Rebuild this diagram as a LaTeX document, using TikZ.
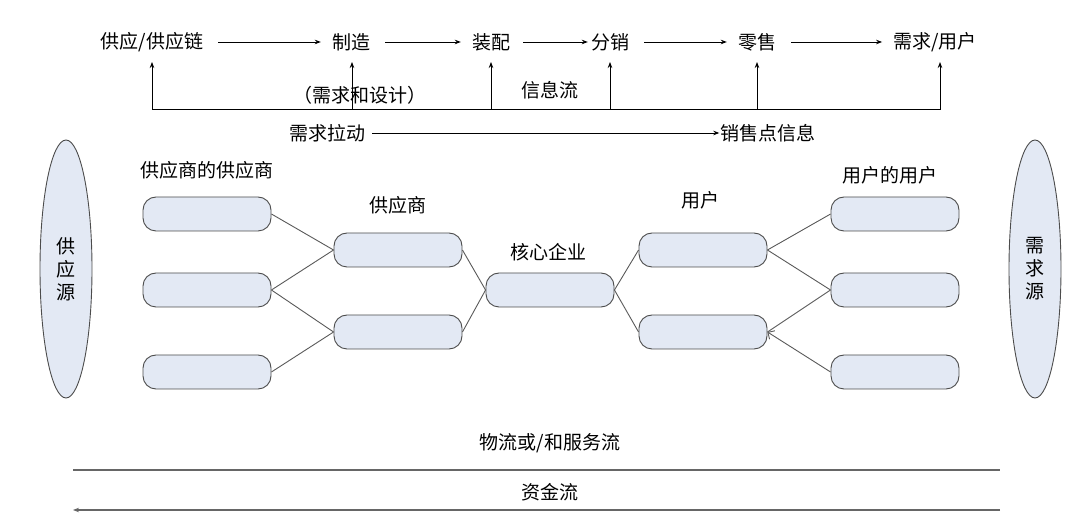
\documentclass[tikz,border=0pt]{standalone}
\usepackage{fontspec}
\setmainfont{Noto Sans CJK SC}
\usetikzlibrary{arrows.meta,shapes.geometric}
\definecolor{bf}{HTML}{E3E9F4}
\begin{document}
\begin{tikzpicture}[x=1pt,y=-1pt,
 t/.style={font=\fontsize{19}{23}\selectfont,inner sep=1pt},
 box/.style={draw=black!70,fill=bf,rounded corners=13pt,minimum width=128pt,minimum height=34pt,line width=0.9pt},
 src/.style={draw=black!70,fill=bf,ellipse,minimum width=52pt,minimum height=258pt,line width=0.9pt},
 ar/.style={-{Stealth[length=6pt]},line width=0.8pt},
 tar/.style={ar,shorten <=14pt,shorten >=10pt},
 ln/.style={draw=black!65,line width=0.9pt}]
\useasboundingbox (0,0) rectangle (1080,526);
% top row
\node[t] (a1) at (152,42) {供应/供应链};
\node[t] (a2) at (351,42) {制造};
\node[t] (a3) at (491,42) {装配};
\node[t] (a4) at (610,42) {分销};
\node[t] (a5) at (757,42) {零售};
\node[t] (a6) at (935,42) {需求/用户};
\draw[tar] (a1) -- (a2);
\draw[tar] (a2) -- (a3);
\draw[tar,shorten <=12pt,shorten >=2pt] (a3) -- (a4);
\draw[tar] (a4) -- (a5);
\draw[tar] (a5) -- (a6);
\coordinate (b1) at (152,110); \coordinate (b2) at (352,110); \coordinate (b3) at (491,110);
\coordinate (b4) at (610,110); \coordinate (b5) at (757,110); \coordinate (b6) at (940,110);
\draw[line width=1pt] (b1) -- (b6);
\draw[ar] (b1) -- (152,62);
\draw[ar] (b2) -- (352,62);
\draw[ar] (b3) -- (491,62);
\draw[ar] (b4) -- (610,62);
\draw[ar] (b5) -- (757,62);
\draw[ar] (b6) -- (940,62);
\node[t] (l1) at (360,95) {（需求和设计）};
\node[t] (l2) at (550,90) {信息流};
\node[t] (p1) at (327,133) {需求拉动};
\node[t] (p2) at (768,133) {销售点信息};
\draw[ar,shorten <=6pt] (p1) -- (p2);
% sources
\node[src] (s1) at (66,269) {};
\node[t,align=center] at (66,269) {供\\应\\源};
\node[src] (s2) at (1035,269) {};
\node[t,align=center] at (1035,269) {需\\求\\源};
% boxes
\node[box] (l1a) at (207,214) {}; \node[box] (l1b) at (207,290) {}; \node[box] (l1c) at (207,372) {};
\node[box] (sa) at (398,250) {}; \node[box] (sb) at (398,332) {};
\node[box] (c) at (550,290) {};
\node[box] (ua) at (703,250) {}; \node[box] (ub) at (703,332) {};
\node[box] (r1a) at (895,214) {}; \node[box] (r1b) at (895,290) {}; \node[box] (r1c) at (895,372) {};
\draw[ln] (l1a.east) -- (sa.west);
\draw[ln] (l1b.east) -- (sa.west);
\draw[ln] (l1b.east) -- (sb.west);
\draw[ln] (l1c.east) -- (sb.west);
\draw[ln] (sa.east) -- (c.west);
\draw[ln] (sb.east) -- (c.west);
\draw[ln] (c.east) -- (ua.west);
\draw[ln] (c.east) -- (ub.west);
\draw[ln] (ua.east) -- (r1a.west);
\draw[ln] (ua.east) -- (r1b.west);
\draw[ln] (ub.east) -- (r1b.west);
\draw[ln,-{Straight Barb[length=5pt]}] (r1c.west) -- (ub.east);
\node[t] at (207,170) {供应商的供应商};
\node[t] at (398,205) {供应商};
\node[t] at (548,252) {核心企业};
\node[t] at (700,200) {用户};
\node[t] at (890,175) {用户的用户};
% bottom
\node[t] at (550,443) {物流或/和服务流};
\coordinate (f1) at (73,470); \coordinate (f2) at (1000,470);
\draw[line width=1.2pt,black!60] (f1) -- (f2);
\node[t] at (550,492) {资金流};
\coordinate (m1) at (1000,510); \coordinate (m2) at (73,510);
\draw[line width=1.2pt,black!60,-{Stealth[length=6pt]}] (m1) -- (m2);
\end{tikzpicture}
\end{document}
